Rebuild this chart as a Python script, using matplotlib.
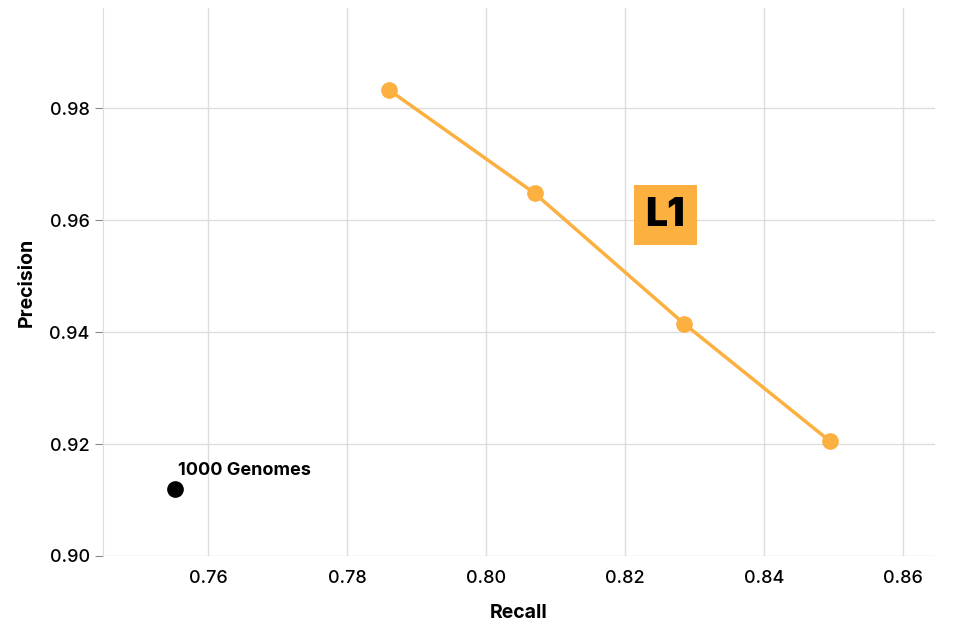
import matplotlib
matplotlib.use("Agg")
import matplotlib.pyplot as plt

recall = [0.786, 0.807, 0.8285, 0.8495]
precision = [0.9833, 0.9648, 0.9415, 0.9205]
base_recall = [0.7552]
base_precision = [0.912]
base_label = "1000 Genomes"
xticks = [0.76, 0.78, 0.80, 0.82, 0.84, 0.86]
yticks = [0.90, 0.92, 0.94, 0.96, 0.98]

plt.rcParams['font.family'] = ['Inter', 'DejaVu Sans']
fig = plt.figure(figsize=(9.6, 6.4), dpi=100)
ax = fig.add_axes([103/960, 1-556/640, (935-103)/960, (556-8)/640])
ax.set_xlim(0.7449, 0.8646)
ax.set_ylim(0.90, 0.9979)
ax.grid(True, color='#dddddd', linewidth=1)
ax.set_axisbelow(True)
for s in ['top', 'right', 'bottom']:
    ax.spines[s].set_visible(False)
ax.spines['left'].set_color('#dddddd')
ax.set_xticks(xticks)
ax.set_yticks(yticks)
ax.set_xticklabels([f"{v:.2f}" for v in xticks], fontweight='medium')
ax.set_yticklabels([f"{v:.2f}" for v in yticks], fontweight='medium')
ax.tick_params(axis='x', length=0, labelsize=13, pad=10)
ax.tick_params(axis='y', length=6, color='#888888', labelsize=13)
ax.set_xlabel("Recall", fontsize=14, fontweight='bold', labelpad=12)
ax.set_ylabel("Precision", fontsize=14, fontweight='bold', labelpad=10)

ax.plot(recall, precision, color='#fbb040', linewidth=2.5, marker='o', markersize=11, zorder=3)
ax.plot(base_recall, base_precision, 'o', color='black', markersize=11, zorder=3)
ax.text(base_recall[0] + 0.0005, base_precision[0] + 0.0025, base_label, fontsize=13, fontweight='bold')

ax.text(0.8258, 0.9609, "L1", fontsize=28, fontweight='black', ha='center', va='center',
        color='black', bbox=dict(boxstyle='square,pad=0.3', fc='#fbb040', ec='none'), zorder=4)

fig.savefig("out.png", dpi=100)
